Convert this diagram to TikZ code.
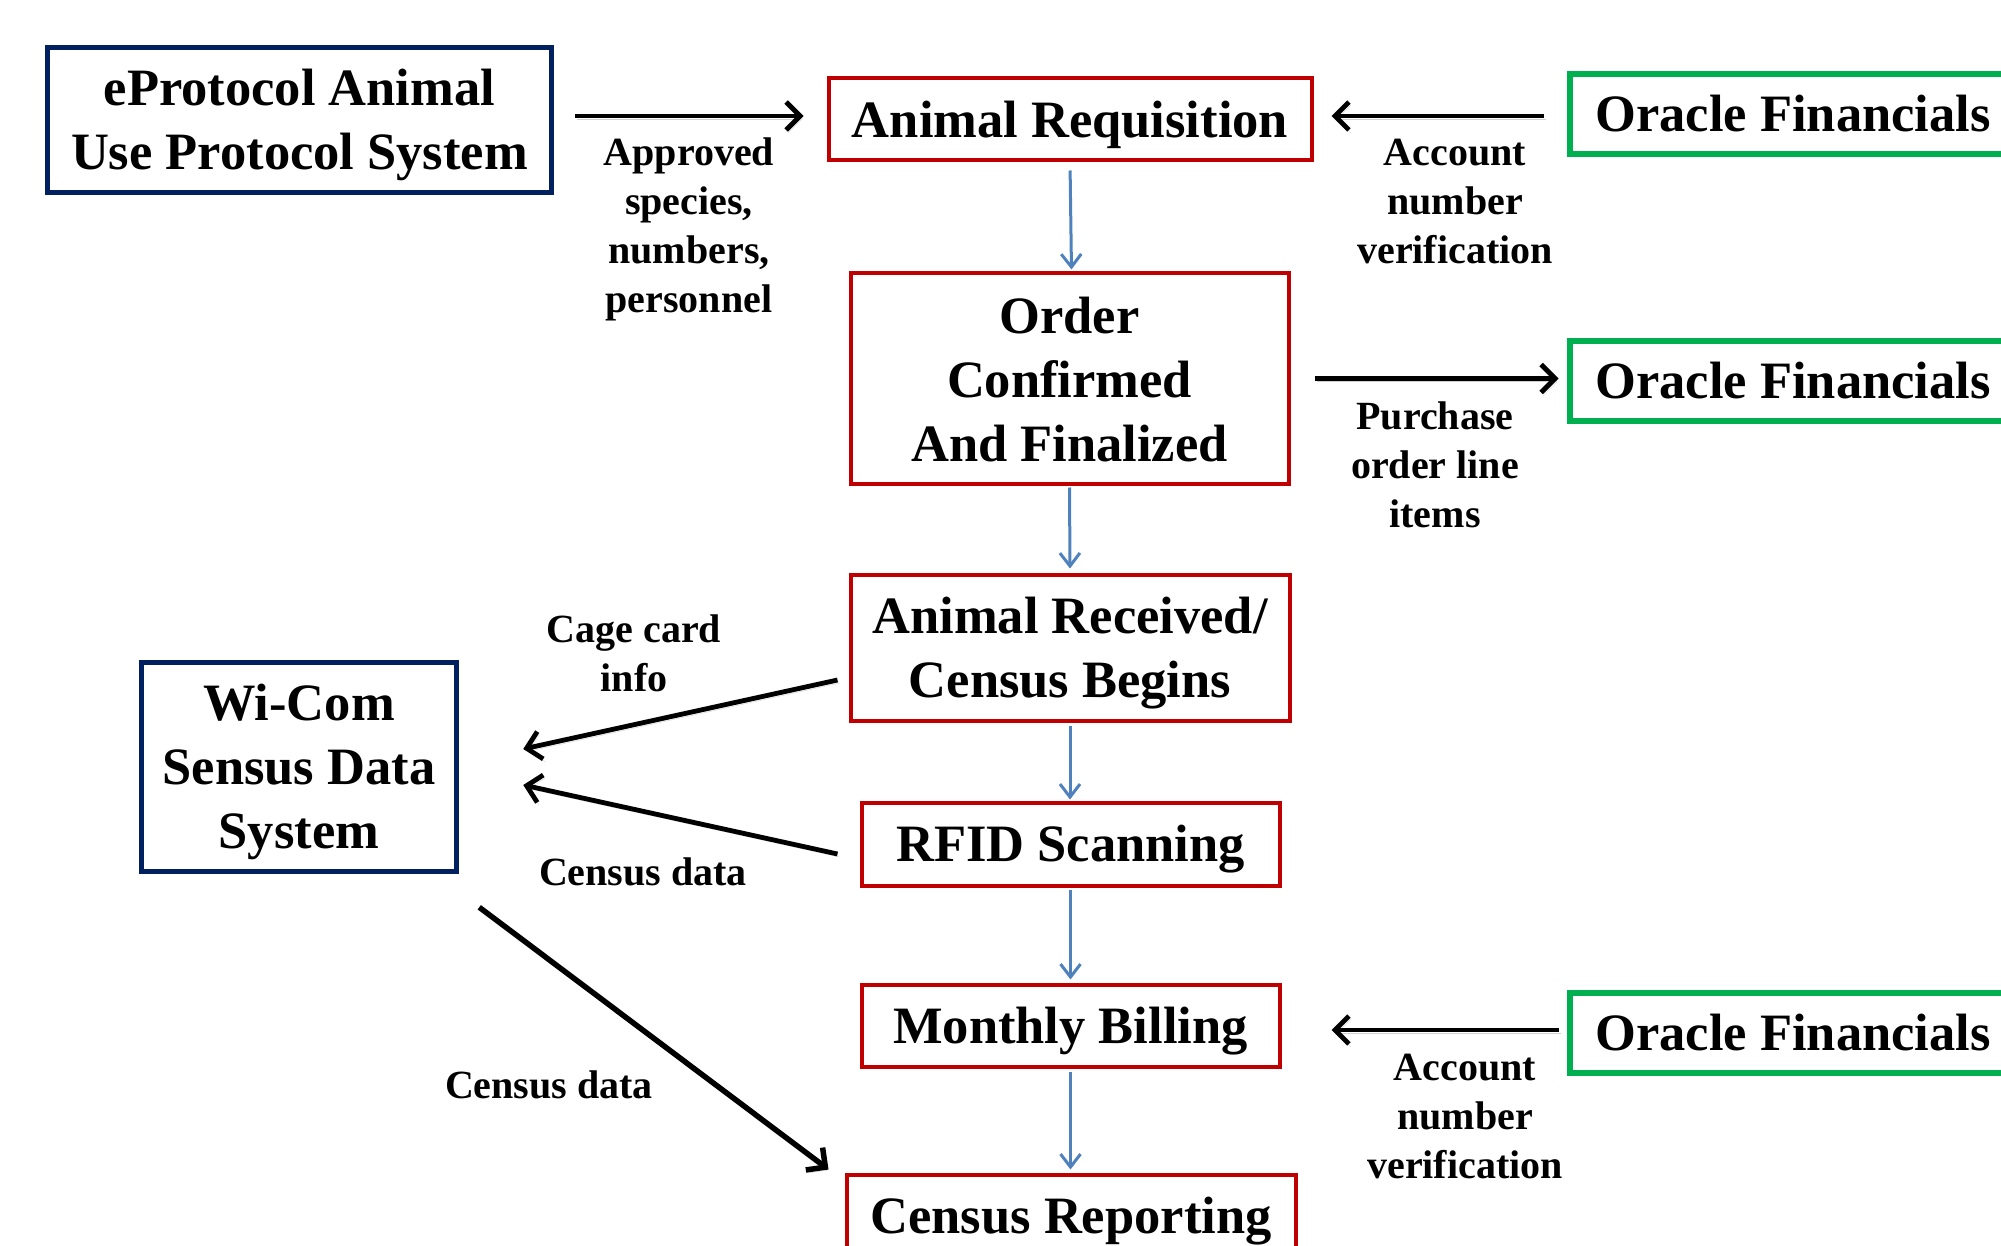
\documentclass[tikz,border=0pt]{standalone}
\usepackage{fontspec}
\setmainfont{Liberation Serif}
\usetikzlibrary{arrows.meta,calc}
\definecolor{navyc}{HTML}{002060}
\definecolor{redc}{HTML}{C00000}
\definecolor{greenc}{HTML}{00B050}
\definecolor{bluec}{HTML}{4F81BD}
\newcommand\myBig{\fontsize{52.5}{64}\selectfont\bfseries}
\newcommand\mySmall{\fontsize{40}{49}\selectfont\bfseries}
\newcommand\upf{\rule{0pt}{47pt}}
\begin{document}
\begin{tikzpicture}[x=1pt,y=-1pt,
  box/.style={draw, rectangle, inner sep=0pt, align=center, font=\myBig},
  sysbox/.style={box, draw=navyc, line width=5.5pt},
  stepbox/.style={box, draw=redc, line width=4pt},
  orabox/.style={box, draw=greenc, line width=6pt, minimum width=447pt, minimum height=80pt},
  lbl/.style={inner sep=0pt, align=center, font=\mySmall},
  shad/.style={preaction={draw=black!18, transform canvas={shift={(2pt,-3pt)}}}},
  blk/.style={draw=black, line width=4.8pt, shad, -{Straight Barb[length=14pt,width=28pt]}},
  blu/.style={draw=bluec, line width=3pt, -{Straight Barb[length=13pt,width=20pt]}}]
\useasboundingbox (0,0) rectangle (2001,1246);
\clip (0,0) rectangle (2001,1246);

% nodes
\node[sysbox, minimum width=504pt, minimum height=145pt] (eprot) at (299.5,120) {\upf eProtocol Animal\\Use Protocol System};
\node[sysbox, minimum width=315pt, minimum height=209pt] (wicom) at (299,767) {\upf Wi-Com\\Sensus Data\\System};

\node[stepbox, minimum width=483pt, minimum height=82pt] (areq) at (1070,119.5) {\upf Animal Requisition};
\node[stepbox, minimum width=438pt, minimum height=210pt] (order) at (1069.5,378.5) {\rule{0pt}{39pt}Order\\Confirmed\\And Finalized};
\node[stepbox, minimum width=439pt, minimum height=146pt] (arec) at (1070,647.5) {\upf Animal Received/\\Census Begins};
\node[stepbox, minimum width=418pt, minimum height=83pt] (rfid) at (1070.5,844) {\upf RFID Scanning};
\node[stepbox, minimum width=418pt, minimum height=82pt] (bill) at (1070.5,1025.5) {\upf Monthly Billing};
\node[stepbox, minimum width=449pt, minimum height=82pt] (crep) at (1071,1215.5) {\upf Census Reporting};

\node[orabox] (ora1) at (1793,114) {Oracle Financials};
\node[orabox] (ora2) at (1793,381) {Oracle Financials};
\node[orabox] (ora3) at (1793,1033) {Oracle Financials};

% labels
\node[lbl] (l1) at (689,229) {Approved\\species,\\numbers,\\personnel};
\node[lbl] (l2) at (1455,201) {Account\\number\\verification};
\node[lbl] (l3) at (1435,465) {Purchase\\order line\\items};
\node[lbl] (l4) at (634,653) {Cage card\\info};
\node[lbl] (l5) at (643,872) {Census data};
\node[lbl] (l6) at (549,1085) {Census data};
\node[lbl] (l7) at (1465,1116) {Account\\number\\verification};

% black connectors
\draw[blk, shorten <=21pt, shorten >=23pt] ($(eprot.east)+(0,-4)$) -- ($(areq.west)+(0,-3.5)$);
\draw[blk, shorten <=23pt, shorten >=18pt] ($(ora1.west)+(0,2)$) -- ($(areq.east)+(0,-3.5)$);
\draw[blk, shorten <=24pt, shorten >=8pt] (order.east) -- (order.east -| ora2.west);
\draw[blk, shorten <=8pt, shorten >=50pt] ($(ora3.west)+(0,-3)$) -- ($(bill.east)+(0,4.5)$);

\coordinate (c4s) at ($(arec.west)+(-11,32.5)$);
\coordinate (c4e) at ($(wicom.east)+(64,-18)$);
\coordinate (c5s) at ($(rfid.west)+(-22,10)$);
\coordinate (c5e) at ($(wicom.east)+(64,18)$);
\coordinate (c6s) at ($(wicom.south east)+(20,33)$);
\coordinate (c6e) at ($(crep.west)+(-16,-46)$);
\draw[blk] (c4s) -- (c4e);
\draw[blk] (c5s) -- (c5e);
\draw[blk, line width=5.5pt] (c6s) -- (c6e);

% blue connectors
\draw[blu, shorten <=8pt, shorten >=2pt] (areq.south) -- ($(order.north)+(2,0)$);
\draw[blu, shorten <=2pt, shorten >=4pt] (order.south) -- (arec.north);
\draw[blu, shorten <=3pt, shorten >=1pt] (arec.south) -- (rfid.north -| arec.south);
\draw[blu, shorten <=2pt, shorten >=3pt] (rfid.south) -- (bill.north);
\draw[blu, shorten <=3pt, shorten >=3pt] (bill.south) -- (crep.north -| bill.south);
\end{tikzpicture}
\end{document}
